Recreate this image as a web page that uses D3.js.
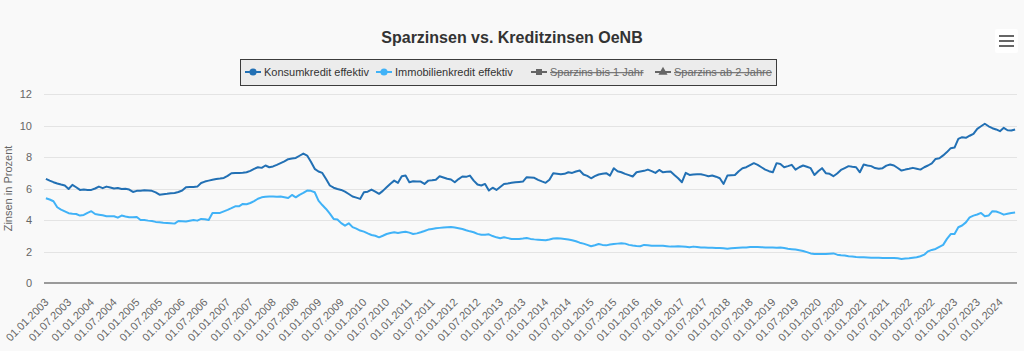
<!DOCTYPE html>
<html>
<head>
<meta charset="utf-8">
<script src="https://cdn.jsdelivr.net/npm/d3@7"></script>
<style>
  html, body { margin: 0; padding: 0; background: #f9f9f9; }
  svg { display: block; font-family: "Liberation Sans", Arial, Helvetica, sans-serif; }
</style>
</head>
<body>
<div id="chart"></div>
<script>
// monthly values, Jan 2003 - May 2024
var konsumkredit = [
  6.61, 6.50, 6.40, 6.32, 6.25, 6.19, 5.97, 6.23, 6.08, 5.91, 5.93, 5.90,
  5.91, 6.00, 6.12, 6.02, 6.12, 6.06, 6.00, 6.03, 5.97, 5.98, 5.93, 5.78,
  5.85, 5.86, 5.89, 5.87, 5.85, 5.75, 5.61, 5.64, 5.66, 5.70, 5.72, 5.78,
  5.87, 6.08, 6.09, 6.10, 6.12, 6.35, 6.44, 6.50, 6.55, 6.60, 6.63, 6.67,
  6.80, 6.97, 6.98, 6.99, 7.00, 7.03, 7.12, 7.25, 7.35, 7.31, 7.46, 7.35,
  7.40, 7.50, 7.61, 7.72, 7.86, 7.90, 7.94, 8.08, 8.22, 8.09, 7.70, 7.25,
  7.08, 6.99, 6.60, 6.19, 6.05, 5.97, 5.91, 5.80, 5.65, 5.49, 5.42, 5.34,
  5.76, 5.80, 5.93, 5.80, 5.66, 5.85, 6.08, 6.30, 6.50, 6.36, 6.78, 6.82,
  6.40, 6.46, 6.45, 6.44, 6.29, 6.50, 6.52, 6.55, 6.78, 6.70, 6.62, 6.57,
  6.40, 6.60, 6.76, 6.74, 6.82, 6.50, 6.25, 6.19, 6.29, 5.87, 6.05, 5.91,
  6.10, 6.29, 6.32, 6.36, 6.40, 6.42, 6.44, 6.72, 6.70, 6.68, 6.55, 6.45,
  6.36, 6.55, 6.97, 6.94, 6.91, 6.93, 7.03, 6.99, 7.08, 7.14, 6.89, 6.80,
  6.65, 6.78, 6.89, 6.93, 6.97, 6.82, 7.29, 7.10, 7.03, 6.93, 6.85, 6.76,
  7.03, 7.08, 7.12, 7.20, 7.10, 6.99, 7.18, 7.03, 7.06, 7.08, 6.86, 6.65,
  6.40, 6.99, 6.86, 6.89, 6.90, 6.91, 6.85, 6.78, 6.82, 6.75, 6.65, 6.29,
  6.82, 6.84, 6.86, 7.10, 7.29, 7.35, 7.48, 7.61, 7.50, 7.35, 7.20, 7.10,
  7.03, 7.61, 7.56, 7.35, 7.42, 7.50, 7.20, 7.35, 7.46, 7.38, 7.29, 6.86,
  7.10, 7.29, 6.97, 6.93, 6.78, 6.95, 7.18, 7.30, 7.42, 7.38, 7.35, 7.03,
  7.52, 7.46, 7.42, 7.30, 7.25, 7.29, 7.45, 7.52, 7.46, 7.30, 7.14, 7.20,
  7.25, 7.31, 7.26, 7.20, 7.35, 7.46, 7.60, 7.88, 7.92, 8.10, 8.31, 8.56,
  8.60, 9.15, 9.26, 9.22, 9.35, 9.47, 9.79, 9.95, 10.11, 9.95, 9.83, 9.75,
  9.64, 9.85, 9.70, 9.68, 9.75
];

var immobilienkredit = [
  5.38, 5.30, 5.19, 4.81, 4.66, 4.55, 4.43, 4.40, 4.38, 4.28, 4.32, 4.45,
  4.56, 4.38, 4.34, 4.30, 4.24, 4.24, 4.24, 4.15, 4.28, 4.22, 4.17, 4.17,
  4.19, 4.00, 4.00, 3.96, 3.93, 3.88, 3.86, 3.83, 3.81, 3.79, 3.77, 3.94,
  3.92, 3.90, 3.95, 4.00, 3.96, 4.07, 4.05, 4.00, 4.45, 4.45, 4.45, 4.55,
  4.64, 4.75, 4.87, 4.87, 5.02, 5.00, 5.08, 5.20, 5.35, 5.44, 5.47, 5.49,
  5.49, 5.48, 5.49, 5.45, 5.40, 5.59, 5.44, 5.60, 5.72, 5.87, 5.85, 5.76,
  5.23, 4.95, 4.70, 4.40, 4.07, 4.03, 3.80, 3.64, 3.79, 3.55, 3.45, 3.33,
  3.26, 3.15, 3.05, 3.00, 2.90, 3.00, 3.11, 3.18, 3.22, 3.18, 3.22, 3.26,
  3.20, 3.11, 3.15, 3.22, 3.30, 3.39, 3.43, 3.47, 3.50, 3.52, 3.54, 3.56,
  3.52, 3.48, 3.43, 3.35, 3.28, 3.22, 3.12, 3.07, 3.07, 3.09, 2.98, 2.90,
  2.84, 2.90, 2.85, 2.80, 2.80, 2.80, 2.82, 2.86, 2.80, 2.77, 2.75, 2.73,
  2.71, 2.76, 2.82, 2.84, 2.82, 2.80, 2.76, 2.71, 2.65, 2.56, 2.50, 2.42,
  2.33, 2.40, 2.48, 2.42, 2.39, 2.44, 2.48, 2.50, 2.52, 2.50, 2.42, 2.38,
  2.35, 2.33, 2.42, 2.40, 2.37, 2.36, 2.37, 2.37, 2.34, 2.31, 2.32, 2.33,
  2.32, 2.30, 2.27, 2.31, 2.28, 2.25, 2.25, 2.24, 2.24, 2.23, 2.22, 2.20,
  2.18, 2.20, 2.22, 2.24, 2.25, 2.26, 2.28, 2.29, 2.28, 2.27, 2.26, 2.25,
  2.25, 2.24, 2.25, 2.22, 2.18, 2.15, 2.12, 2.08, 2.03, 1.96, 1.88, 1.84,
  1.84, 1.84, 1.84, 1.86, 1.88, 1.80, 1.76, 1.74, 1.70, 1.68, 1.65, 1.64,
  1.63, 1.62, 1.61, 1.60, 1.60, 1.59, 1.59, 1.59, 1.59, 1.57, 1.53, 1.55,
  1.57, 1.60, 1.63, 1.70, 1.80, 2.01, 2.10, 2.16, 2.30, 2.42, 2.80, 3.11,
  3.11, 3.54, 3.65, 3.85, 4.17, 4.28, 4.35, 4.45, 4.24, 4.28, 4.56, 4.54,
  4.45, 4.34, 4.40, 4.45, 4.47
];

// categories: first of every month
var months = d3.timeMonth.range(new Date(2003, 0, 1), new Date(2024, 5, 1));

var yTicks = [0, 2, 4, 6, 8, 10, 12];

var legendNames = ["Konsumkredit effektiv", "Immobilienkredit effektiv", "Sparzins bis 1 Jahr", "Sparzins ab 2 Jahre"];
var legendVisible = [true, true, false, false];

var titleText = "Sparzinsen vs. Kreditzinsen OeNB";
var yTitle = "Zinsen in Prozent";

// layout
var width = 1024, height = 351;
var plot = {left: 44, right: 1017, top: 94, bottom: 283};
var colors = ["#2270b4", "#40b2f7", "#666666", "#666666"];
var symbols = [d3.symbolCircle, d3.symbolCircle, d3.symbolSquare, d3.symbolTriangle];
var legendX = [245, 376, 531, 655];

var fmt = d3.timeFormat("%d.%m.%Y");

var svg = d3.select("#chart")
  .append("svg")
  .attr("width", width)
  .attr("height", height);

svg.append("rect")
  .attr("width", width)
  .attr("height", height)
  .attr("fill", "#f9f9f9");

// scales
var xScale = d3.scalePoint()
  .domain(d3.range(months.length))
  .range([plot.left, plot.right])
  .padding(0.5);

var yScale = d3.scaleLinear()
  .domain([0, 12])
  .range([plot.bottom, plot.top]);

// title
svg.append("text")
  .attr("x", 512)
  .attr("y", 43)
  .attr("text-anchor", "middle")
  .style("font-size", "16px")
  .style("font-weight", "bold")
  .style("fill", "#333333")
  .text(titleText);

// menu button
var menu = svg.append("g").attr("class", "menu");
menu.append("rect")
  .attr("x", 995).attr("y", 29)
  .attr("width", 23).attr("height", 24)
  .attr("rx", 2)
  .attr("fill", "#ffffff");
[36, 41, 46].forEach(function(y) {
  menu.append("line")
    .attr("x1", 999).attr("x2", 1014)
    .attr("y1", y).attr("y2", y)
    .attr("stroke", "#666666")
    .attr("stroke-width", 2);
});

// legend
var legend = svg.append("g").attr("class", "legend");
legend.append("rect")
  .attr("x", 240.5).attr("y", 59.5)
  .attr("width", 536).attr("height", 26)
  .attr("fill", "#ececec")
  .attr("stroke", "#3c3c3c")
  .attr("stroke-width", 1);

legendNames.forEach(function(name, i) {
  var g = legend.append("g").attr("transform", "translate(" + legendX[i] + ",72)");
  g.append("line")
    .attr("x1", 0).attr("x2", 16)
    .attr("y1", 0).attr("y2", 0)
    .attr("stroke", colors[i])
    .attr("stroke-width", 2);
  g.append("path")
    .attr("transform", "translate(8,0)")
    .attr("d", d3.symbol().type(symbols[i]).size(i < 2 ? 40 : 36)())
    .attr("fill", colors[i]);
  g.append("text")
    .attr("x", 19)
    .attr("y", 4)
    .style("font-size", "11px")
    .style("fill", legendVisible[i] ? "#333333" : "#6b6b6b")
    .style("text-decoration", legendVisible[i] ? "none" : "line-through")
    .text(name);
});

// grid lines
svg.append("g")
  .attr("class", "grid")
  .selectAll("line")
  .data(yTicks.filter(d => d > 0))
  .enter()
  .append("line")
    .attr("x1", plot.left)
    .attr("x2", plot.right)
    .attr("y1", d => Math.round(yScale(d)) + 0.5)
    .attr("y2", d => Math.round(yScale(d)) + 0.5)
    .attr("stroke", "#e4e4e4")
    .attr("stroke-width", 1);

// y axis labels
svg.append("g")
  .attr("class", "yLabels")
  .selectAll("text")
  .data(yTicks)
  .enter()
  .append("text")
    .attr("x", 32)
    .attr("y", d => yScale(d) + 4)
    .attr("text-anchor", "end")
    .style("font-size", "11px")
    .style("fill", "#666666")
    .text(d => d);

svg.append("text")
  .attr("transform", "translate(12," + ((plot.top + plot.bottom) / 2) + ") rotate(-90)")
  .attr("text-anchor", "middle")
  .style("font-size", "11px")
  .style("fill", "#666666")
  .text(yTitle);

// x axis line
svg.append("line")
  .attr("x1", plot.left).attr("x2", plot.right)
  .attr("y1", plot.bottom).attr("y2", plot.bottom)
  .attr("stroke", "#9a9a9a")
  .attr("stroke-width", 2);

// x labels every 6 months
var xAxis = d3.axisBottom(xScale)
  .tickValues(d3.range(0, months.length, 6))
  .tickSize(0)
  .tickFormat(i => fmt(months[i]));

var xg = svg.append("g")
  .attr("transform", "translate(0," + plot.bottom + ")")
  .call(xAxis);
xg.select(".domain").remove();
xg.selectAll("text")
  .attr("y", 0)
  .attr("dy", 0)
  .attr("transform", "translate(3,20) rotate(-45)")
  .attr("text-anchor", "end")
  .style("font-size", "11px")
  .style("font-family", "'Liberation Sans', Arial, sans-serif")
  .style("fill", "#666666");

// lines
var line = d3.line()
  .x((d, i) => xScale(i))
  .y(d => yScale(d));

var series = [immobilienkredit, konsumkredit];
var seriesColors = [colors[1], colors[0]];

svg.append("g")
  .attr("class", "lines")
  .selectAll("path")
  .data(series)
  .enter()
  .append("path")
    .attr("d", line)
    .attr("fill", "none")
    .attr("stroke", (d, i) => seriesColors[i])
    .attr("stroke-width", 2)
    .attr("stroke-linejoin", "round");
</script>
</body>
</html>
